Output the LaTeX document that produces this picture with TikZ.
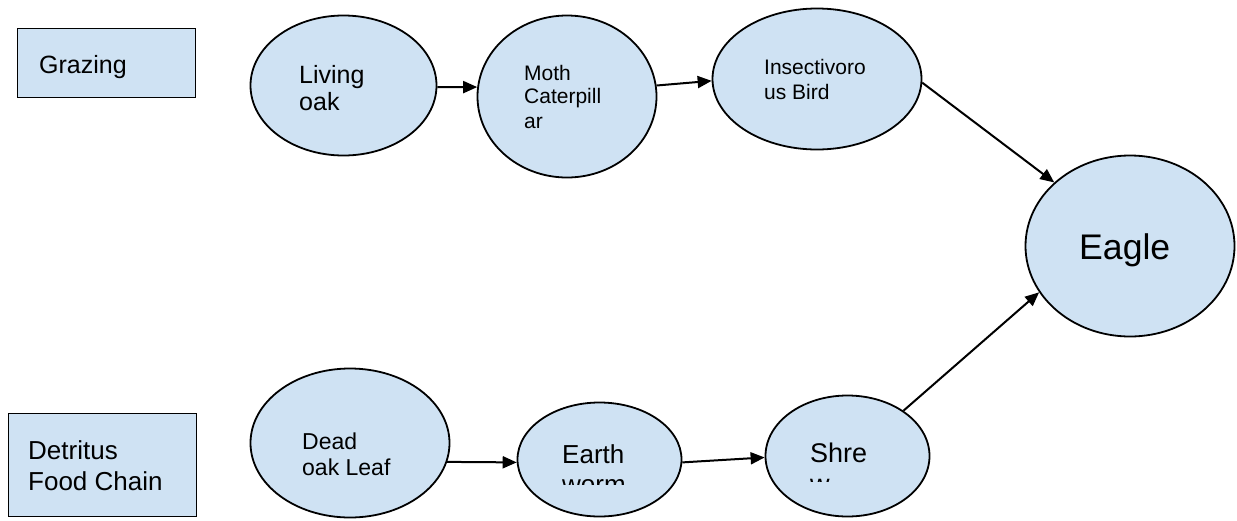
\documentclass[tikz,border=0pt]{standalone}
\usepackage{fontspec}
\setmainfont{Liberation Sans}
\usetikzlibrary{arrows.meta,shapes.geometric}
\definecolor{fillblue}{HTML}{CFE2F3}
\tikzset{
  bubble/.style={ellipse, draw=black, line width=1.8pt, fill=fillblue, inner sep=0pt},
  catbox/.style={rectangle, draw=black, line width=1.8pt, fill=fillblue, inner sep=0pt},
  txt/.style={anchor=base west, inner sep=0pt, text=black},
  conn/.style={line width=2pt, -{Triangle[length=14pt,width=12pt]}},
}
\newcommand{\fs}[1]{\fontsize{#1}{#1}\selectfont}
\begin{document}
\begin{tikzpicture}[x=1pt,y=-1pt]
\useasboundingbox (0,0) rectangle (1237,520);
% boxes
\node[catbox, minimum width=178pt, minimum height=69pt] (grazing) at (106.5,63) {};
\node[catbox, minimum width=188pt, minimum height=103pt] (detritus) at (102.5,465) {};
% ellipses
\node[bubble, minimum width=186pt, minimum height=140pt] (living) at (343.5,85.5) {};
\node[bubble, minimum width=179pt, minimum height=162pt] (moth) at (567,96.5) {};
\node[bubble, minimum width=209pt, minimum height=141pt] (insect) at (817,79) {};
\node[bubble, minimum width=209pt, minimum height=181pt] (eagle) at (1130,246) {};
\node[bubble, minimum width=199pt, minimum height=149pt] (dead) at (350,443) {};
\node[bubble, minimum width=164pt, minimum height=114pt] (earth) at (599.5,459.5) {};
\node[bubble, minimum width=164pt, minimum height=121pt] (shrew) at (847.5,456) {};
% texts
\node[txt] (tgrazing) at (39,73) {\fs{25}Grazing};
\node[txt] (tdet1) at (28,459) {\fs{26}Detritus};
\node[txt] (tdet2) at (28,490) {\fs{26}Food Chain};
\node[txt] (tliv1) at (299,83) {\fs{25}Living};
\node[txt] (tliv2) at (299,110) {\fs{25}oak};
\node[txt] (tmoth1) at (524,80) {\fs{21}Moth};
\node[txt] (tmoth2) at (524,103.5) {\fs{21}Caterpill};
\node[txt] (tmoth3) at (524,128) {\fs{21}ar};
\node[txt] (tins1) at (764,74) {\fs{21}Insectivoro};
\node[txt] (tins2) at (764,99) {\fs{21}us Bird};
\node[txt] (teagle) at (1079,259) {\fs{35.6}Eagle};
\node[txt] (tdead1) at (302,449) {\fs{23}Dead};
\node[txt] (tdead2) at (302,475) {\fs{23}oak Leaf};
\node[txt] (tearth1) at (562,463) {\fs{26}Earth};
\begin{scope}
  \clip (540,470) rectangle (660,484);
  \node[txt] (tearth2) at (562,493) {\fs{26}worm};
\end{scope}
\node[txt] (tshrew1) at (810,462) {\fs{27}Shre};
\begin{scope}
  \clip (790,470) rectangle (880,481);
  \node[txt] (tshrew2) at (810,493) {\fs{27}w};
\end{scope}
% connectors
\draw[conn] (living.-1) -- (moth.174);
\draw[conn] (moth.7) -- (insect.181);
\draw[conn] (insect.-2) -- (eagle.140);
\draw[conn] (dead.-11) -- (earth.182);
\draw[conn] (earth.-2) -- (shrew.181);
\draw[conn] (shrew.39) -- (eagle.207);
\end{tikzpicture}
\end{document}
